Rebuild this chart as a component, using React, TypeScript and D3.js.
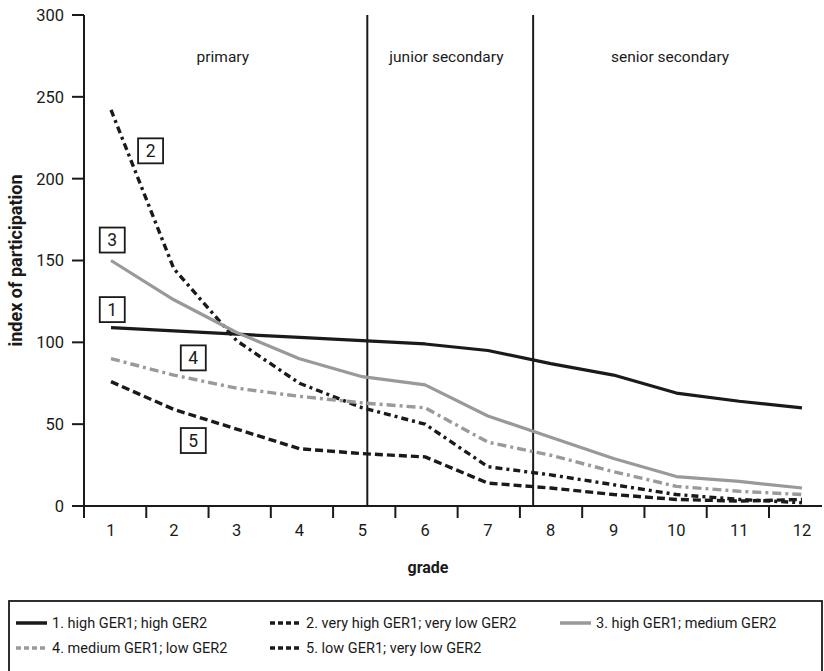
import React from "react";
import * as d3 from "d3";

const grades = [1, 2, 3, 4, 5, 6, 7, 8, 9, 10, 11, 12];
const s1 = [109, 107, 105, 103, 101, 99, 95, 87, 80, 69, 64, 60];
const s2 = [242, 145, 101, 75, 60, 50, 24, 19, 13, 7, 4, 2];
const s3 = [150, 126, 106, 90, 79, 74, 55, 42, 29, 18, 15, 11];
const s4 = [90, 80, 72, 67, 63, 60, 39, 31, 21, 12, 9, 7];
const s5 = [76, 59, 47, 35, 32, 30, 14, 11, 7, 4, 3, 4];
const yTicks = [0, 50, 100, 150, 200, 250, 300];
const stageBounds = [5.08, 7.72];
const stageLabels = ["primary", "junior secondary", "senior secondary"];
const stageCenters = [2.78, 6.34, 9.9];
const seriesNames = [
  "1. high GER1; high GER2",
  "2. very high GER1; very low GER2",
  "3. high GER1; medium GER2",
  "4. medium GER1; low GER2",
  "5. low GER1; very low GER2",
];
const boxLabels = [
  { id: "1", g: 1.02, v: 120 },
  { id: "2", g: 1.63, v: 217 },
  { id: "3", g: 1.02, v: 162.5 },
  { id: "4", g: 2.31, v: 90.5 },
  { id: "5", g: 2.31, v: 40 },
];

const FONT = "Roboto, 'Open Sans', sans-serif";

export default function App() {
  const x = d3.scaleLinear().domain([1, 12]).range([111, 802]);
  const xTick = d3.scaleLinear().domain([0, 11]).range([84, 769]);
  const y = d3.scaleLinear().domain([0, 300]).range([506, 15]);
  const line = d3
    .line<number>()
    .x((_, i) => x(grades[i]))
    .y((d) => y(d));

  const styles = [
    { data: s1, color: "#1a1a1a", dash: "", w: 3.2 },
    { data: s2, color: "#1a1a1a", dash: "7,4,3,4", w: 3.4 },
    { data: s3, color: "#999999", dash: "", w: 3.2 },
    { data: s4, color: "#9a9a9a", dash: "9,4,3,4", w: 3.4 },
    { data: s5, color: "#1a1a1a", dash: "8,4", w: 3.4 },
  ];

  const legendPos = [
    { lx: 16, ly: 623 },
    { lx: 270, ly: 623 },
    { lx: 560, ly: 623 },
    { lx: 16, ly: 648 },
    { lx: 270, ly: 648 },
  ];

  return (
    <svg
      width={824}
      height={671}
      style={{ position: "absolute", left: 0, top: 0, background: "#fff" }}
      fontFamily={FONT}
    >
      {/* y axis */}
      <line x1={84} x2={84} y1={y(300)} y2={y(0)} stroke="#1a1a1a" strokeWidth={2} />
      {yTicks.map((t) => (
        <g key={t}>
          <line x1={72} x2={84} y1={y(t)} y2={y(t)} stroke="#1a1a1a" strokeWidth={2} />
          <text x={64} y={y(t)} dy="0.36em" textAnchor="end" fontSize={16.5} fill="#1a1a1a">
            {t}
          </text>
        </g>
      ))}
      {/* x axis */}
      <line x1={72} x2={822} y1={y(0)} y2={y(0)} stroke="#1a1a1a" strokeWidth={2} />
      {grades.map((g, i) => (
        <g key={g}>
          <line x1={xTick(i)} x2={xTick(i)} y1={y(0)} y2={y(0) + 12} stroke="#1a1a1a" strokeWidth={2} />
          <text x={x(g)} y={536} textAnchor="middle" fontSize={16.5} fill="#1a1a1a">
            {g}
          </text>
        </g>
      ))}
      <text x={428} y={573} textAnchor="middle" fontSize={16} fontWeight="bold" fill="#1a1a1a">
        grade
      </text>
      <text
        transform={`translate(22, ${y(150)}) rotate(-90)`}
        textAnchor="middle"
        fontSize={18}
        fontWeight="bold"
        fill="#1a1a1a"
      >
        index of participation
      </text>
      {/* stage boundaries */}
      {stageBounds.map((b) => (
        <line key={b} x1={x(b)} x2={x(b)} y1={y(300)} y2={y(0)} stroke="#1a1a1a" strokeWidth={2} />
      ))}
      {stageLabels.map((s, i) => (
        <text key={s} x={x(stageCenters[i])} y={62} textAnchor="middle" fontSize={15.5} fill="#1a1a1a">
          {s}
        </text>
      ))}
      {/* series */}
      {styles.map((s, i) => (
        <path
          key={i}
          d={line(s.data) || ""}
          fill="none"
          stroke={s.color}
          strokeWidth={s.w}
          strokeDasharray={s.dash}
          strokeLinejoin="round"
        />
      ))}
      {/* box labels */}
      {boxLabels.map((b) => (
        <g key={b.id} transform={`translate(${x(b.g)}, ${y(b.v)})`}>
          <rect x={-12.5} y={-12.5} width={25} height={25} fill="#fff" stroke="#1a1a1a" strokeWidth={1.8} />
          <text x={0} y={0} dy="0.36em" textAnchor="middle" fontSize={17.5} fill="#1a1a1a">
            {b.id}
          </text>
        </g>
      ))}
      {/* legend */}
      <rect x={9} y={601} width={813} height={80} fill="none" stroke="#1a1a1a" strokeWidth={1.8} />
      {styles.map((s, i) => (
        <g key={i}>
          <line
            x1={legendPos[i].lx}
            x2={legendPos[i].lx + 31}
            y1={legendPos[i].ly}
            y2={legendPos[i].ly}
            stroke={s.color}
            strokeWidth={3.5}
            strokeDasharray={s.dash ? "5,3" : ""}
          />
          <text
            x={legendPos[i].lx + 36}
            y={legendPos[i].ly}
            dy="0.35em"
            fontSize={14.5}
            fill="#1a1a1a"
          >
            {seriesNames[i]}
          </text>
        </g>
      ))}
    </svg>
  );
}
